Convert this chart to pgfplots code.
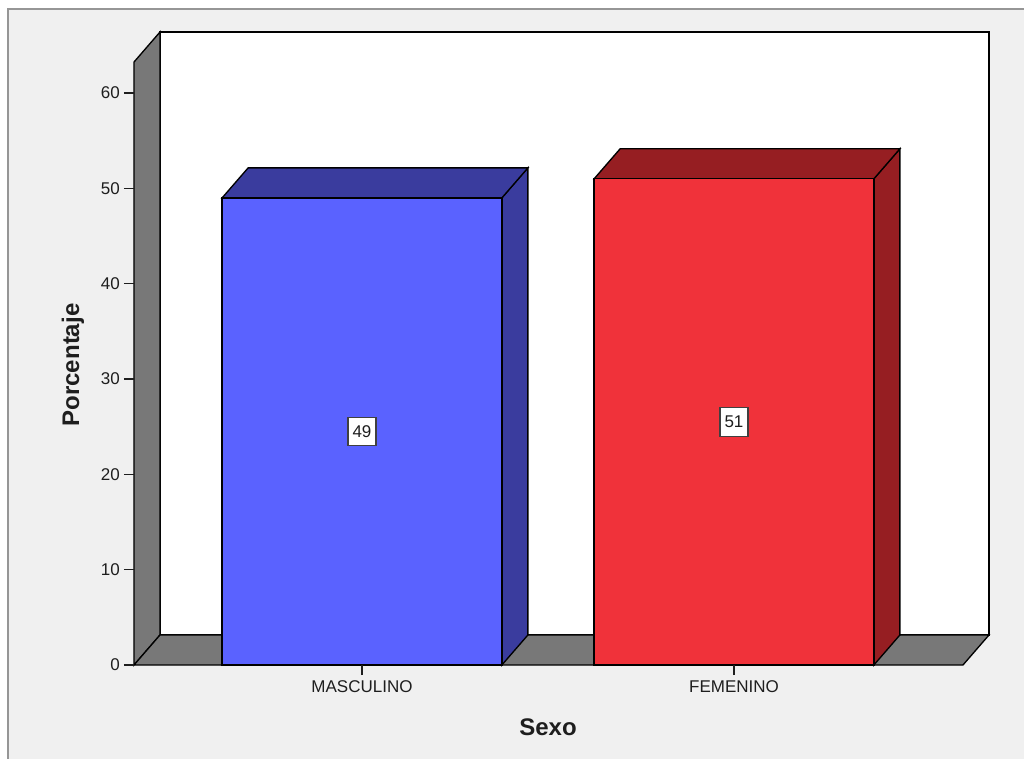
\documentclass[border=0pt]{standalone}
\usepackage{pgfplots}
\pgfplotsset{compat=1.18}
\usepackage{fontspec}
\setmainfont{Liberation Sans}
\definecolor{bgc}{RGB}{240,240,240}
\definecolor{framec}{RGB}{150,150,150}
\definecolor{wallc}{RGB}{120,120,120}
\definecolor{blueF}{RGB}{90,98,255}
\definecolor{blueD}{RGB}{58,60,158}
\definecolor{redF}{RGB}{240,50,58}
\definecolor{redD}{RGB}{150,30,34}
\definecolor{txt}{RGB}{30,30,30}
\begin{document}
\begin{tikzpicture}
\begin{axis}[
  at={(0,0)}, anchor=south west,
  scale only axis, width=641.25pt, height=474.75pt,
  xmin=-0.6129, xmax=1.6855, ymin=0, ymax=66.40,
  clip=false, axis on top,
  axis line style={draw=none},
  xtick={0,1}, xticklabels={MASCULINO,FEMENINO},
  ytick={0,10,...,60},
  tick pos=left, tick align=outside,
  major tick length=7.5pt,
  tick style={line width=0.9pt, color=txt},
  ticklabel style={font=\fontsize{12.75}{15}\selectfont, text=txt},
  /pgf/number format/assume math mode=true,
  yticklabel style={inner sep=3pt},
  xticklabel style={inner sep=4pt},
]
% outer background frame
\draw[framec, line width=1.5pt, fill=bgc] (axis cs:-0.9516,68.81) rectangle (axis cs:1.90,-12);
% back wall
\addplot[fill=white, draw=black, line width=1pt] coordinates {(-0.5430,3.15) (1.6855,3.15) (1.6855,66.40) (-0.5430,66.40)} -- cycle;
% left wall
\addplot[fill=wallc, draw=black, line width=1pt] coordinates {(-0.6129,0) (-0.5430,3.15) (-0.5430,66.40) (-0.6129,63.25)} -- cycle;
% floor
\addplot[fill=wallc, draw=black, line width=1pt] coordinates {(-0.6129,0) (1.6155,0) (1.6855,3.15) (-0.5430,3.15)} -- cycle;
% MASCULINO bar (49)
\addplot[fill=blueD, draw=black, line width=1pt] coordinates {(0.376,0) (0.446,3.15) (0.446,52.15) (0.376,49)} -- cycle;
\addplot[fill=blueD, draw=black, line width=1pt] coordinates {(-0.376,49) (0.376,49) (0.446,52.15) (-0.306,52.15)} -- cycle;
\addplot[ybar, bar width=0.752, bar shift=0pt, fill=blueF, draw=black, line width=1pt] coordinates {(0,49)};
% FEMENINO bar (51)
\addplot[fill=redD, draw=black, line width=1pt] coordinates {(1.376,0) (1.446,3.15) (1.446,54.15) (1.376,51)} -- cycle;
\addplot[fill=redD, draw=black, line width=1pt] coordinates {(0.624,51) (1.376,51) (1.446,54.15) (0.694,54.15)} -- cycle;
\addplot[ybar, bar width=0.752, bar shift=0pt, fill=redF, draw=black, line width=1pt] coordinates {(1,51)};
% value labels
\node[fill=white, draw=black!75, line width=0.9pt, inner sep=0pt, minimum width=21pt, minimum height=21.5pt, text=txt, font=\fontsize{12.75}{15}\selectfont] at (axis cs:0,24.5) {49};
\node[fill=white, draw=black!75, line width=0.9pt, inner sep=0pt, minimum width=21pt, minimum height=21.5pt, text=txt, font=\fontsize{12.75}{15}\selectfont] at (axis cs:1,25.5) {51};
% axis titles
\node[rotate=90, text=txt, font=\bfseries\fontsize{18}{21}\selectfont] at (axis cs:-0.777,31.47) {Porcentaje};
\node[text=txt, font=\bfseries\fontsize{18}{21}\selectfont] at (axis cs:0.5,-6.50) {Sexo};
\end{axis}
\pgfresetboundingbox
\path[use as bounding box] (-100.5pt,-69.75pt) rectangle (667.5pt,498.75pt);
\end{tikzpicture}
\end{document}
